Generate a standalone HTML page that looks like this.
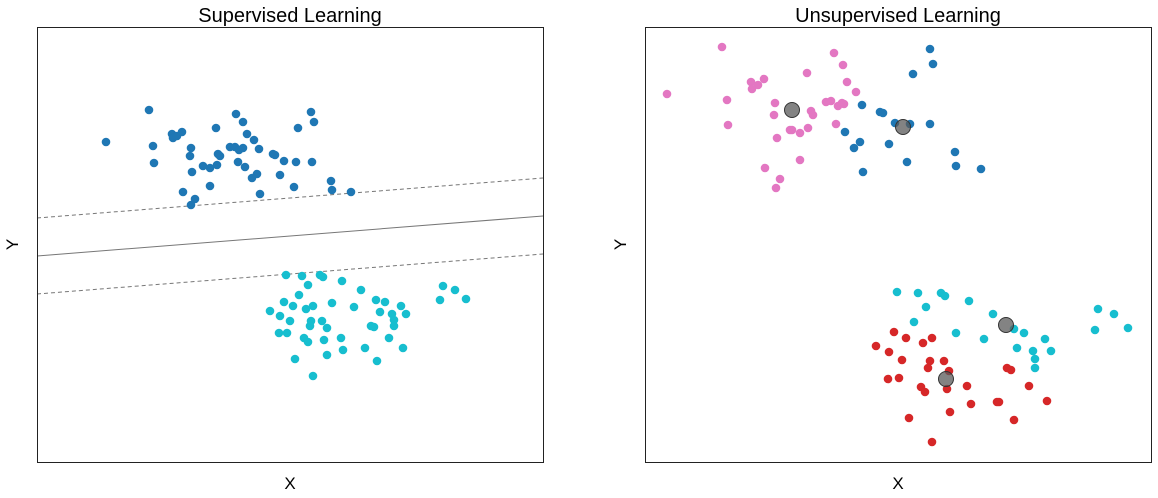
<!DOCTYPE html>
<html><head><meta charset="utf-8"><style>
html,body{margin:0;padding:0;background:#fff;}
svg{display:block;font-family:"Liberation Sans",Arial,sans-serif;}
</style></head><body>
<svg id="chart" width="1158" height="498" viewBox="0 0 1158 498"></svg>
<script>
// Data coordinates: x domain [0,506], y domain [0,435] (y up)
const supBlueX=[69,112,116,117,135,136,140,145,154,153,155,146,158,154,166,173,180,181,183,173,179,193,198,202,206,201,208,199,206,210,217,222,220,215,223,236,238,247,243,259,257,261,274,277,275,294,295,314];
const supBlueY=[320,352,316,299,328,324,326,330,314,306,290,270,263,257,296,294,297,308,306,276,334,315,315,312,314,300,295,348,340,328,322,313,288,284,268,308,307,301,287,300,275,334,350,340,300,281,272,270];
const supCyanX=[249,265,283,286,271,305,262,324,247,256,233,243,253,269,276,295,317,339,348,364,343,355,369,357,357,334,337,274,273,285,290,242,250,267,271,287,304,352,306,328,366,290,258,340,276,406,418,403,429];
const supCyanY=[187,186,187,185,177,181,167,172,160,156,151,146,141,153,156,159,155,162,160,156,150,148,148,142,136,136,135,141,136,141,134,129,129,124,120,122,124,124,112,114,114,107,103,101,86,176,172,162,163];
const boundaryStart=[0,206];
const boundaryEnd=[506,246];
const marginOffset=38;

const pinkX=[22,77,82,83,106,107,113,119,130,129,132,145,147,155,163,162,166,168,181,186,193,197,199,191,189,198,202,211,155,120,135,131];
const pinkY=[368,415,362,337,380,373,377,383,359,347,324,332,332,329,334,389,351,347,360,361,356,359,358,338,409,397,380,370,302,294,283,274];
const blueX=[285,288,268,217,235,238,250,265,285,200,215,209,244,262,310,311,336,218];
const blueY=[413,398,388,357,350,349,339,338,338,330,320,314,318,300,310,296,293,290];
const cyanX=[252,273,296,300,324,281,348,269,311,339,369,379,400,372,388,406,390,390,453,469,450,483];
const cyanY=[170,169,169,166,161,155,148,140,129,123,133,129,123,114,111,111,103,94,153,148,132,134];
const redX=[249,261,278,287,231,244,257,285,299,283,304,243,254,276,280,302,322,362,366,384,326,305,352,354,402,264,369,287];
const redY=[130,124,119,124,116,110,102,101,101,94,91,83,84,75,70,73,76,94,92,76,58,50,60,60,61,44,42,20];
const centroidX=[147,258,361,301];
const centroidY=[352,335,137,83];

const NS="http://www.w3.org/2000/svg";
const svgEl=document.getElementById('chart');
function mk(tag,attrs,parent){const e=document.createElementNS(NS,tag);for(const k in attrs)e.setAttribute(k,attrs[k]);(parent||svgEl).appendChild(e);return e;}

const plotTop=27,plotH=435,plotW=506;
function panel(left,title,name){
  const g=mk('g',{});
  
  
  const sx=v=>left+v/506*plotW;
  const sy=v=>plotTop+plotH-v/435*plotH;
  const t=mk('text',{x:left+plotW/2,y:22,'text-anchor':'middle','font-size':20,fill:'#000'},g);
  t.textContent=title;
  
  
  const xl=mk('text',{x:left+plotW/2,y:489,'text-anchor':'middle','font-size':17,fill:'#000'},g);
  xl.textContent='X';
  
  
  const yl=mk('text',{x:left-19,y:plotTop+plotH/2,'text-anchor':'middle','font-size':17,fill:'#000',transform:`rotate(-90 ${left-19} ${plotTop+plotH/2})`},g);
  yl.textContent='Y';
  
  
  return {g,sx,sy,left};
}
function frame(p){
  const r=mk('rect',{x:p.left+0.5,y:plotTop+0.5,width:plotW,height:plotH,fill:'none',stroke:'#222','stroke-width':1},p.g);
  
  
}
function dots(p,xs,ys,color,name){
  xs.forEach((x,i)=>{
    const c=mk('circle',{cx:p.sx(x),cy:p.sy(ys[i]),r:4.3,fill:color},p.g);
    
    
  });
}

const L=panel(37,'Supervised Learning','supervised-panel');
[[0,'#777','none','decision-boundary'],[marginOffset,'#777','4,3','upper-margin'],[-marginOffset,'#777','4,3','lower-margin']].forEach(([o,c,d,n])=>{
  const ln=mk('line',{x1:L.sx(boundaryStart[0]),y1:L.sy(boundaryStart[1]+o),x2:L.sx(boundaryEnd[0]),y2:L.sy(boundaryEnd[1]+o),stroke:c,'stroke-width':1,'stroke-dasharray':d},L.g);
  
  
});
dots(L,supBlueX,supBlueY,'#1f77b4','class-a-point');
dots(L,supCyanX,supCyanY,'#17becf','class-b-point');
frame(L);

const R=panel(645,'Unsupervised Learning','unsupervised-panel');
dots(R,pinkX,pinkY,'#e377c2','cluster-pink-point');
dots(R,blueX,blueY,'#1f77b4','cluster-blue-point');
dots(R,cyanX,cyanY,'#17becf','cluster-cyan-point');
dots(R,redX,redY,'#d62728','cluster-red-point');
centroidX.forEach((x,i)=>{
  const c=mk('circle',{cx:R.sx(x),cy:R.sy(centroidY[i]),r:7.5,fill:'rgba(90,90,90,0.75)',stroke:'#333','stroke-width':1},R.g);
  
  
});
frame(R);
</script>
</body></html>
